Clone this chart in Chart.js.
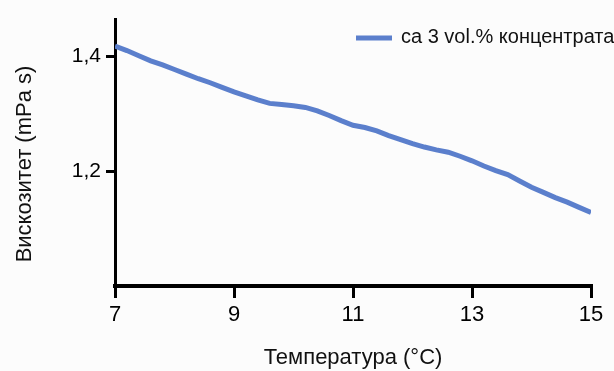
<!DOCTYPE html>
<html>
<head>
<meta charset="utf-8">
<script src="https://cdn.jsdelivr.net/npm/chart.js@4"></script>
<style>
    html, body { margin: 0; padding: 0; background: #fcfcfc; }
    #wrap { width: 614px; height: 371px; }
</style>
</head>
<body>
<div id="wrap"><canvas id="viscChart" width="614" height="371"></canvas></div>
<script>
// ===============================
// DATA
// ===============================
const temperatures = [
    7.0, 7.2, 7.4, 7.6, 7.8, 8.0, 8.2, 8.4, 8.6, 8.8,
    9.0, 9.2, 9.4, 9.6, 9.8, 10.0, 10.2, 10.4, 10.6, 10.8,
    11.0, 11.2, 11.4, 11.6, 11.8, 12.0, 12.2, 12.4, 12.6, 12.8,
    13.0, 13.2, 13.4, 13.6, 13.8, 14.0, 14.2, 14.4, 14.6, 14.8, 15.0
];
const viscosity = [
    1.418, 1.410, 1.401, 1.392, 1.385, 1.377, 1.369, 1.361, 1.354, 1.346,
    1.338, 1.331, 1.324, 1.318, 1.316, 1.314, 1.311, 1.305, 1.297, 1.288,
    1.280, 1.276, 1.270, 1.262, 1.255, 1.248, 1.242, 1.237, 1.233, 1.226,
    1.218, 1.209, 1.201, 1.194, 1.183, 1.172, 1.163, 1.154, 1.146, 1.137, 1.128
];
const xTicks = [7, 9, 11, 13, 15];
const yTicks = [1.2, 1.4];
const seriesLabel = "ca 3 vol.% концентрата";
const yTitle = "Вискозитет (mPa s)";
const xTitle = "Температура (°C)";

const LINE_COLOR = "#5b7fcc";
const FONT = "'Liberation Sans', Arial, sans-serif";

// ===============================
// LEGEND + Y TITLE (drawn by hand)
// ===============================
const extrasPlugin = {
    id: "extras",
    afterDraw(chart) {
        const ctx = chart.ctx;
        const ds = chart.data.datasets[0];
        ctx.save();

        // legend in the top-right corner
        ctx.strokeStyle = ds.borderColor;
        ctx.lineWidth = 5;
        ctx.beginPath();
        ctx.moveTo(356, 38);
        ctx.lineTo(392, 38);
        ctx.stroke();
        ctx.fillStyle = "#111";
        ctx.font = "20px " + FONT;
        ctx.textBaseline = "middle";
        ctx.textAlign = "left";
        ctx.fillText(ds.label, 401, 37);

        // rotated y title
        ctx.translate(25, 164);
        ctx.rotate(-Math.PI / 2);
        ctx.font = "22px " + FONT;
        ctx.textAlign = "center";
        ctx.fillText(yTitle, 0, 0);

        ctx.restore();
    }
};

// ===============================
// CHART
// ===============================
const ctx = document.getElementById("viscChart").getContext("2d");

new Chart(ctx, {
    type: "line",
    data: {
        datasets: [{
            label: seriesLabel,
            data: temperatures.map((t, i) => ({ x: t, y: viscosity[i] })),
            borderColor: LINE_COLOR,
            borderWidth: 5,
            pointRadius: 0,
            tension: 0,
            fill: false
        }]
    },
    options: {
        responsive: false,
        animation: false,
        layout: { padding: { top: 19, right: 23, left: 0, bottom: 0 } },
        plugins: {
            legend: { display: false },
            tooltip: { enabled: false }
        },
        scales: {
            x: {
                type: "linear",
                min: 7,
                max: 15,
                afterBuildTicks: scale => { scale.ticks = xTicks.map(v => ({ value: v })); },
                afterFit: scale => { scale.height = 85; },
                border: { display: true, color: "#000", width: 4 },
                grid: { drawOnChartArea: false, color: "#000", lineWidth: 3, tickLength: 12 },
                ticks: {
                    color: "#000",
                    padding: 4,
                    font: { family: FONT, size: 22 }
                },
                title: {
                    display: true,
                    text: xTitle,
                    color: "#111",
                    font: { family: FONT, size: 22 },
                    padding: { top: 0, bottom: 0 }
                }
            },
            y: {
                type: "linear",
                min: 1.0,
                max: 1.465,
                afterBuildTicks: scale => { scale.ticks = yTicks.map(v => ({ value: v })); },
                afterFit: scale => { scale.width = 115; },
                border: { display: true, color: "#000", width: 3 },
                grid: { drawOnChartArea: false, color: "#000", lineWidth: 3, tickLength: 9 },
                ticks: {
                    color: "#000",
                    padding: 5,
                    font: { family: FONT, size: 21 },
                    callback: v => v.toFixed(1).replace(".", ",")
                }
            }
        }
    },
    plugins: [extrasPlugin]
});
</script>
</body>
</html>
